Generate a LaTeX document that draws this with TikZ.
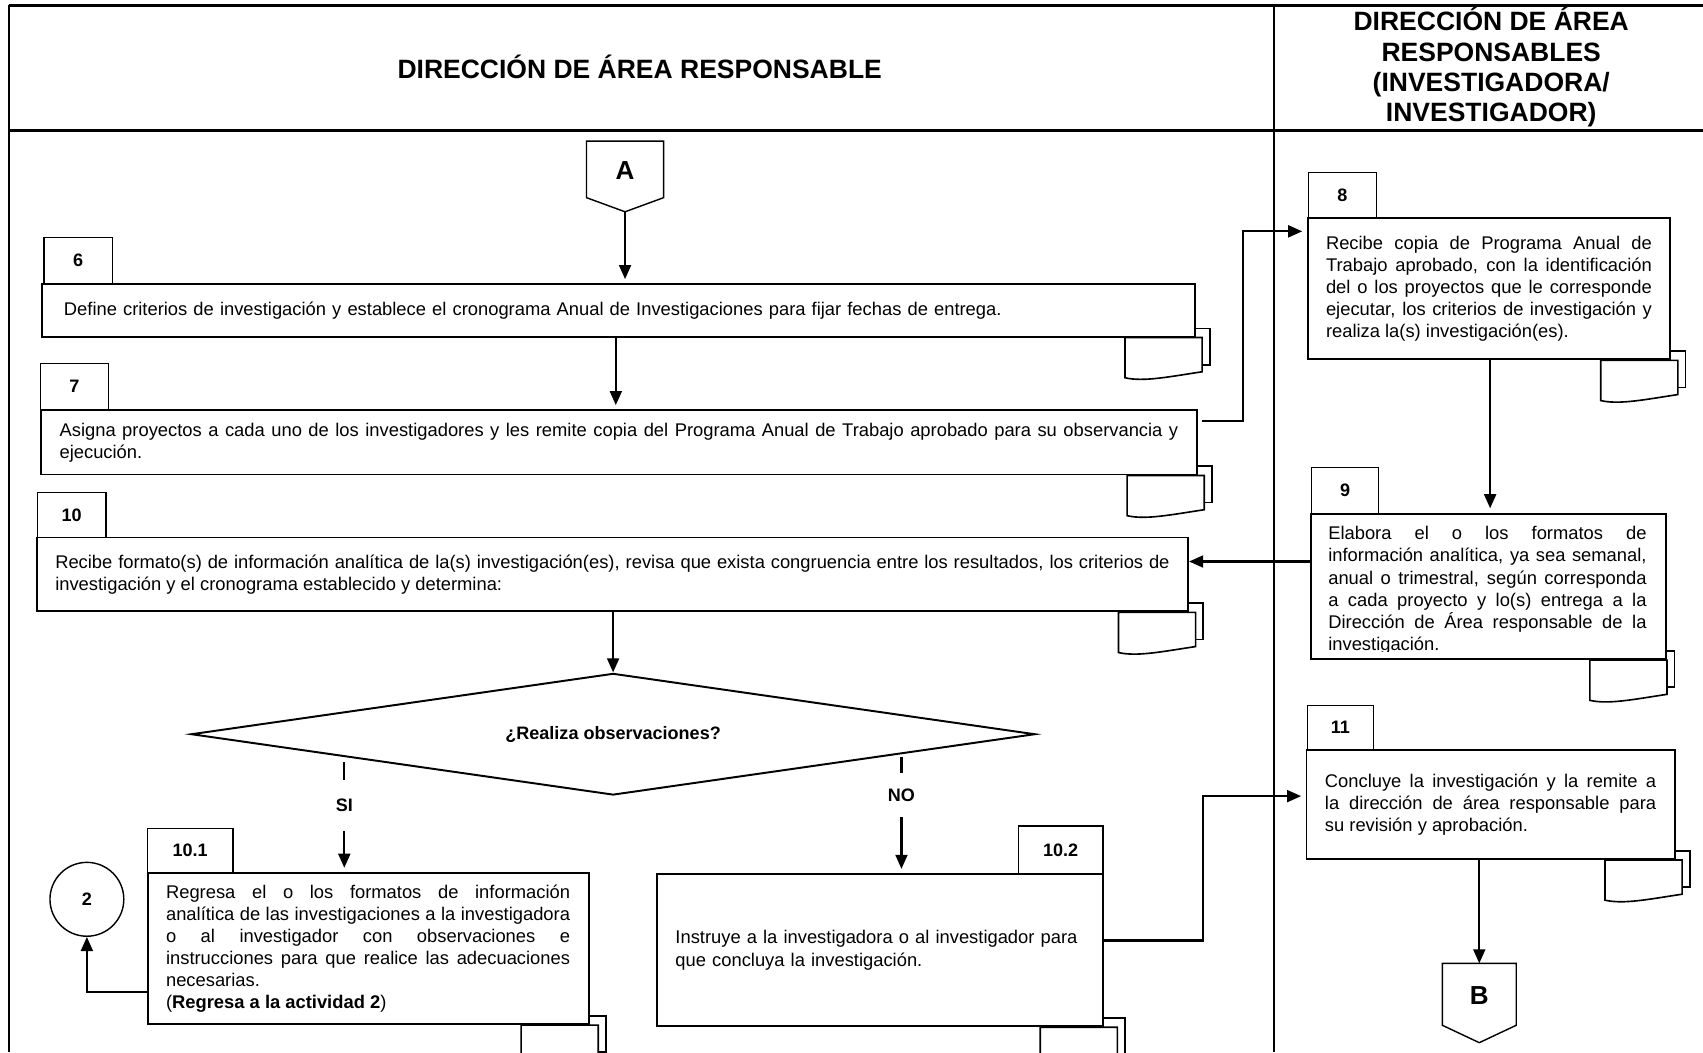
\documentclass[tikz,border=0pt]{standalone}
\usepackage{fontspec}
\setmainfont{Liberation Sans}
\usetikzlibrary{arrows.meta,shapes.geometric,backgrounds,calc}

\newcommand\stepfont{\fontsize{16.9}{20.3}\selectfont\hyphenpenalty=10000\exhyphenpenalty=10000\relax}
\newcommand\tabfont{\bfseries\fontsize{16.6}{20}\selectfont}
\newcommand\headfont{\bfseries\fontsize{24.4}{28}\selectfont}

% document symbol hanging under the lower right corner of a step box
\newcommand\docmark[2][0]{%
  \begin{scope}[shift={(#2)}, xshift=#1]
    \draw[docline, fill=white] (-58,-8.5) rectangle (13,25);
    \draw[docline, fill=white] (-65,0) -- (6,0) -- (6,31.5)
      .. controls (-24,36) and (-48,41) .. (-65,37) -- cycle;
  \end{scope}}

\tikzset{
  stepbox/.style={draw, line width=1.8pt, fill=white, anchor=north west,
    inner xsep=17pt, inner ysep=0pt, font=\stepfont, align=justify},
  tabbox/.style={draw, line width=1.1pt, fill=white, anchor=north west,
    inner sep=0pt, font=\tabfont},
  arr/.style={line width=2pt, -{Triangle[length=13pt,width=11pt]}, shorten >=4pt},
  conn/.style={line width=2pt},
  docline/.style={line width=1.5pt},
  frame/.style={line width=1.5pt},
  heavy/.style={line width=2.5pt},
  flag/.style={line width=1.3pt},
  flagtext/.style={font=\bfseries\fontsize{24}{24}\selectfont},
  branch/.style={font=\tabfont, inner sep=0pt},
}

\begin{document}
\begin{tikzpicture}[x=1pt, y=-1pt]
\useasboundingbox (0,0) rectangle (1568,969);

% swimlane frame
\draw[heavy] (8,5) -- (1568,5);
\draw[heavy] (8,120) -- (1568,120);
\draw[frame] (8,5) -- (8,969);
\draw[frame] (1173,5) -- (1173,969);

\node[font=\headfont] (h1) at (589,62) {DIRECCIÓN DE ÁREA RESPONSABLE};
\node[font=\headfont, align=center] (h2) at (1373,62)
  {DIRECCIÓN DE ÁREA\\RESPONSABLES\\(INVESTIGADORA/\\INVESTIGADOR)};

% connector A
\draw[flag] (540,130) -- (611,130) -- (611,182) -- (575.5,195) -- (540,182) -- cycle;
\node[flagtext] (A) at (575.5,157) {A};
\coordinate (Atip) at (575.5,195);

% number tabs
\node[tabbox, minimum width=63pt, minimum height=43pt] (t6) at (40,218) {6};
\node[tabbox, minimum width=62pt, minimum height=43pt] (t7) at (37,334) {7};
\node[tabbox, minimum width=63pt, minimum height=42pt] (t8) at (1204,158) {8};
\node[tabbox, minimum width=62pt, minimum height=42pt] (t9) at (1207,430) {9};
\node[tabbox, minimum width=63pt, minimum height=41pt] (t10) at (34,453) {10};
\node[tabbox, minimum width=79pt, minimum height=41pt] (t101) at (135,762) {10.1};
\node[tabbox, minimum width=78pt, minimum height=44pt] (t102) at (937,760) {10.2};
\node[tabbox, minimum width=61pt, minimum height=41pt] (t11) at (1203,649) {11};

% step boxes
\node[stepbox, align=left, inner xsep=20pt, text width=1021pt, minimum height=48pt] (b6) at (38,261)
  {Define criterios de investigación y establece el cronograma Anual de Investigaciones para fijar fechas de entrega.};
\node[stepbox, text width=1030pt, minimum height=59pt] (b7) at (37,377)
  {Asigna proyectos a cada uno de los investigadores y les remite copia del Programa Anual de Trabajo aprobado para su observancia y\linebreak ejecución.};
\node[stepbox, text width=300pt, minimum height=130pt] (b8) at (1203,200)
  {Recibe copia de Programa Anual de\linebreak Trabajo aprobado, con la identificación\linebreak del o los proyectos que le corresponde\linebreak ejecutar, los criterios de investigación y\linebreak realiza la(s) investigación(es).};
\node[stepbox, text width=293pt, minimum height=134pt] (b9) at (1206,472) {};
\begin{scope}
  \clip (1206,472) rectangle (1533,599.5);
  \node[font=\stepfont, text width=293pt, align=justify, inner sep=0pt] (b9text) at (1369.5,543.5)
    {Elabora el o los formatos de\linebreak información analítica, ya sea semanal,\linebreak anual o trimestral, según corresponda\linebreak a cada proyecto y lo(s) entrega a la\linebreak Dirección de Área responsable de la\linebreak investigación.};
\end{scope}
\node[stepbox, text width=1026pt, minimum height=68pt] (b10) at (33,494)
  {Recibe formato(s) de información analítica de la(s) investigación(es), revisa que exista congruencia entre los resultados, los criterios de\linebreak investigación y el cronograma establecido y determina:};
\node[stepbox, text width=372pt, minimum height=139pt] (b101) at (135,803)
  {Regresa el o los formatos de información\linebreak analítica de las investigaciones a la investigadora\linebreak o al investigador con observaciones e\linebreak instrucciones para que realice las adecuaciones\linebreak necesarias.\\(\textbf{Regresa a la actividad 2})};
\node[stepbox, align=left, text width=377pt, minimum height=140pt] (b102) at (604,804)
  {Instruye a la investigadora o al investigador para\\que concluya la investigación.};
\node[stepbox, text width=305pt, minimum height=100pt] (b11) at (1202,690)
  {Concluye la investigación y la remite a\linebreak la dirección de área responsable para\linebreak su revisión y aprobación.};

% decision
\node[diamond, draw, line width=1.8pt, fill=white, aspect=6.9, minimum width=777pt,
  minimum height=112pt, inner sep=0pt, font=\tabfont] (D) at (564.5,676) {¿Realiza observaciones?};

% off-page connector B and on-page connector 2
\draw[flag] (1328,887) -- (1396,887) -- (1396,944) -- (1362,960) -- (1328,944) -- cycle;
\node[flagtext] (B) at (1362,917) {B};
\coordinate (Btop) at (1362,887);
\node[circle, draw, line width=1.3pt, minimum size=68pt, font=\tabfont] (c2) at (80,828) {2};

% document symbols behind the boxes
\begin{pgfonlayer}{background}
  \docmark{b6.south east}
  \docmark{b7.south east}
  \docmark{b8.south east}
  \docmark[-6pt]{b9.south east}
  \docmark{b10.south east}
  \docmark[2pt]{b101.south east}
  \docmark[6pt]{b102.south east}
  \docmark{b11.south east}
\end{pgfonlayer}

% flow
\draw[arr] (Atip) -- (Atip |- b6.north);
\coordinate (x67) at (567,0);
\draw[arr] (x67 |- b6.south) -- (x67 |- b7.north);
\draw[arr] ($(b7.north east)+(4,11)$) -- ++(38,0) |- ($(b8.north west)+(0,13)$);
\coordinate (x89) at (1372,0);
\draw[arr] (x89 |- b8.south) -- (x89 |- b9.north);
\draw[arr, shorten >=0pt] ($(b9.north west)+(0,45)$) -- ($(b10.north east)+(0,23)$);
\draw[arr, shorten >=0pt] (D.north |- b10.south) -- (D.north);

% branches of the decision
\node[branch, minimum height=47pt] (si) at (317,741.5) {SI};
\coordinate (siTop) at ($(D.west)!0.365!(D.south)$);
\draw[conn] ($(si.north |- siTop)+(0,5)$) -- (si.north);
\draw[arr] (si.south) -- (si.south |- b101.north);

\node[branch, minimum height=40pt] (no) at (830,732) {NO};
\coordinate (noTop) at ($(D.south)!0.685!(D.east)$);
\draw[conn] ($(no.north |- noTop)+(0,3)$) -- (no.north);
\draw[arr] (no.south) -- (no.south |- b102.north);

\draw[arr, shorten >=0pt] ($(b101.north west)+(0,110)$) -| (c2.south);
\draw[arr] ($(b102.north east)+(0,62)$) -- ++(91,0) |- ($(b11.north west)+(0,43)$);
\draw[arr, shorten >=0pt] (Btop |- b11.south) -- (Btop);

\end{tikzpicture}
\end{document}
